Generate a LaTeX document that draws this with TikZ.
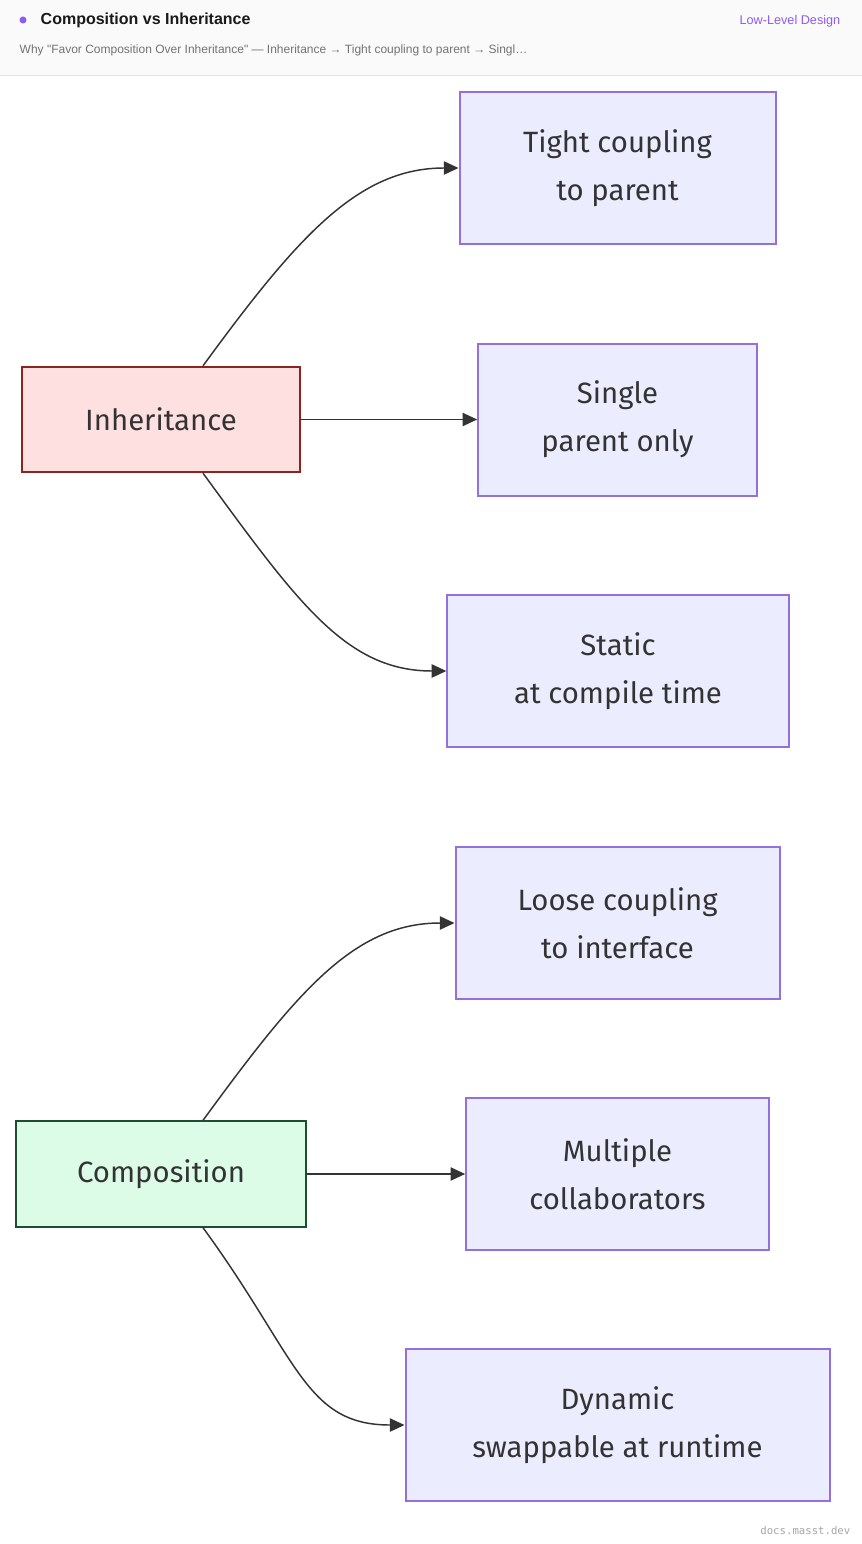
\documentclass[tikz,border=0pt]{standalone}
\usepackage{fontspec}
\setmainfont{Fira Sans}
\newfontfamily\headfont{Liberation Sans}
\newfontfamily\footfont{DejaVu Sans Mono}
\usetikzlibrary{arrows.meta,positioning}
\definecolor{boxfill}{HTML}{ECECFF}
\definecolor{boxline}{HTML}{9370DB}
\definecolor{inhfill}{HTML}{FFE0E0}
\definecolor{inhline}{HTML}{8B2323}
\definecolor{comfill}{HTML}{DCFCE7}
\definecolor{comline}{HTML}{1F4D2F}
\definecolor{edgecol}{HTML}{333333}
\definecolor{accent}{HTML}{8B5CF6}
\tikzset{
  leaf/.style={draw=boxline, fill=boxfill, line width=1.5pt, font=\fontsize{22}{36}\selectfont,
    text=edgecol, align=center, minimum height=114pt, inner sep=0pt},
  root/.style={draw=#1line, fill=#1fill, line width=1.5pt, font=\fontsize{22}{28}\selectfont,
    text=edgecol, minimum height=79pt, inner sep=0pt},
  link/.style={draw=edgecol, line width=1.1pt, -{Triangle[length=11pt,width=10pt]}},
}
\begin{document}
\begin{tikzpicture}[x=0.75pt,y=-0.75pt]
  \useasboundingbox (0,0) rectangle (862,1544);
  % header
  \fill[white] (0,0) rectangle (862,1544);
  \fill[black!2] (0,0) rectangle (862,75);
  \draw[black!10] (0,75) -- (862,75);
  \fill[accent] (23,20) circle (3.5);
  \node[anchor=west, font=\headfont\bfseries\fontsize{12}{14}\selectfont, text=black!90] (title) at (36,20) {Composition vs Inheritance};
  \node[anchor=east, font=\headfont\fontsize{9.5}{12}\selectfont, text=accent] (tag) at (845,21) {Low-Level Design};
  \node[anchor=west, font=\headfont\fontsize{9}{11}\selectfont, text=black!55] (sub) at (15,50)
    {Why "Favor Composition Over Inheritance" — Inheritance → Tight coupling to parent → Singl…};

  % inheritance
  \node[root=inh, minimum width=208pt] (inh) at (161,419.5) {Inheritance};
  \node[leaf, minimum width=237pt] (tight) at (617.5,168) {Tight coupling\\to parent};
  \node[leaf, minimum width=209pt] (single) at (617.5,419.5) {Single\\parent only};
  \node[leaf, minimum width=256pt] (static) at (618,671) {Static\\at compile time};

  % composition
  \node[root=com, minimum width=218pt] (com) at (161,1174) {Composition};
  \node[leaf, minimum width=243pt] (loose) at (617.5,923) {Loose coupling\\to interface};
  \node[leaf, minimum width=227pt] (multi) at (617.5,1174) {Multiple\\collaborators};
  \node[leaf, minimum width=318pt] (dyn) at (617.5,1425) {Dynamic\\swappable at runtime};

  \draw[link] ([xshift=31.5pt]inh.north) .. controls +(95,-130) and +(-100,0) .. (tight.west);
  \draw[link] (inh.east) -- (single.west);
  \draw[link] ([xshift=31.5pt]inh.south) .. controls +(95,130) and +(-100,0) .. (static.west);
  \draw[link] ([xshift=31.5pt]com.north) .. controls +(95,-130) and +(-100,0) .. (loose.west);
  \draw[link] (com.east) -- (multi.west);
  \draw[link] ([xshift=31.5pt]com.south) .. controls +(95,130) and +(-100,0) .. (dyn.west);

  \node[anchor=east, font=\footfont\fontsize{8}{10}\selectfont, text=black!35] (foot) at (855,1531) {docs.masst.dev};
\end{tikzpicture}
\end{document}
